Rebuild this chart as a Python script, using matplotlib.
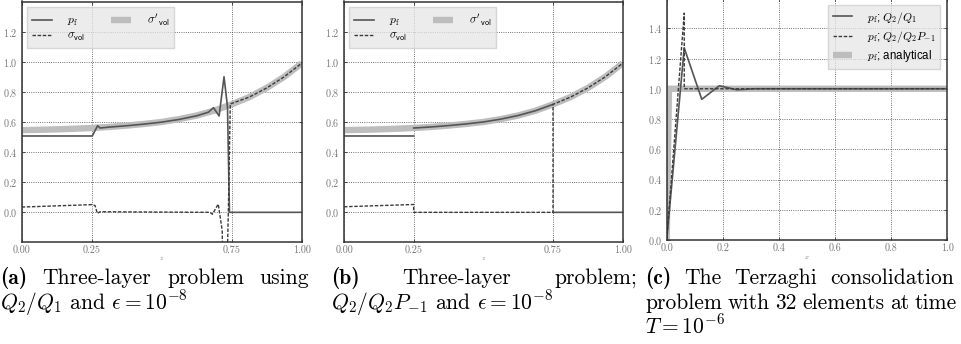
import matplotlib
matplotlib.use("Agg")
import matplotlib.pyplot as plt
from matplotlib.ticker import FormatStrFormatter

plt.rcParams.update({
    "font.family": "cmr10",
    "mathtext.fontset": "cm",
    "axes.unicode_minus": False,
    "axes.formatter.use_mathtext": True,
})

nan = float("nan")

# analytical effective stress, three-layer problem
z_an = [0, 0.0625, 0.125, 0.1875, 0.25, 0.3125, 0.375, 0.4375, 0.5,
        0.5625, 0.625, 0.6875, 0.75, 0.8125, 0.875, 0.9375, 1.0]
sig_an = [0.546, 0.548, 0.551, 0.555, 0.560, 0.567, 0.576, 0.587, 0.600,
          0.619, 0.643, 0.675, 0.717, 0.765, 0.826, 0.900, 0.990]

# (a) Q2/Q1
pf_a_z = [0, 0.252, 0.271, 0.28, 0.3125, 0.375, 0.4375, 0.5, 0.5625, 0.625,
          0.667, 0.685, 0.705, 0.7226, 0.735, 0.742, 1.0]
pf_a = [0.507, 0.507, 0.575, 0.56, 0.566, 0.575, 0.586, 0.599, 0.617, 0.641,
        0.665, 0.695, 0.64, 0.90, 0.70, 0.0, 0.0]
sv_a_z = [0, 0.25, 0.262, 0.27, 0.28, 0.673, 0.681, 0.702, 0.716, 0.725,
          0.738, 0.745, 0.8125, 0.875, 0.9375, 1.0]
sv_a = [0.035, 0.051, 0.045, -0.007, 0.004, 0.0, -0.013, 0.055, -0.12, -1.0,
        0.0, 0.72, 0.765, 0.826, 0.900, 0.990]

# (b) Q2/Q2P-1
pf_b_z = [0, 0.25, nan, 0.25, 0.3125, 0.375, 0.4375, 0.5, 0.5625, 0.625,
          0.6875, 0.75, nan, 0.75, 1.0]
pf_b = [0.507, 0.507, nan, 0.560, 0.567, 0.576, 0.587, 0.600, 0.619, 0.643,
        0.675, 0.717, nan, 0.0, 0.0]
sv_b_z = [0, 0.25, 0.25, 0.75, 0.75, 0.8125, 0.875, 0.9375, 1.0]
sv_b = [0.037, 0.052, 0.0, 0.0, 0.717, 0.765, 0.826, 0.900, 0.990]

# (c) Terzaghi, 32 elements
x_q1 = [0, 0.0625, 0.125, 0.1875, 0.25, 0.3125, 1.0]
pf_q1 = [0, 1.27, 0.93, 1.02, 0.993, 1.0, 1.0]
x_q2 = [0, 0.0625, 0.0625, 1.0]
pf_q2 = [0, 1.5, 1.0, 1.0]
x_terz = [0, 0.008, 1.0]
pf_terz = [0, 1.0, 1.0]

W, H = 962, 344
fig = plt.figure(figsize=(W / 100, H / 100), dpi=100)


def px_axes(l, t, r, b):
    return fig.add_axes([l / W, 1 - b / H, (r - l) / W, (b - t) / H])


def style(ax, xticks, yticks, xlabel):
    for s in ax.spines.values():
        s.set_color("#333333")
        s.set_linewidth(1.1)
    ax.set_xticks(xticks)
    ax.set_yticks(yticks)
    ax.tick_params(direction="in", length=2.5, width=0.6, color="#333333",
                   labelsize=7.3, labelcolor="#777777", top=True, right=True)
    ax.tick_params(axis="x", pad=2.5)
    ax.tick_params(axis="y", pad=3)
    ax.grid(True, linestyle=":", color="#444444", linewidth=0.6)
    ax.set_xlabel(xlabel, fontsize=5, color="#777777", labelpad=0.5)


grey = "#bdbdbd"
dark = "#555555"
dash = "#3a3a3a"
leg_style = dict(fancybox=False, facecolor="#e6e6e6", edgecolor="#cccccc",
                 framealpha=0.75, handlelength=1.7, handletextpad=1.3)

ax_a = px_axes(21.7, 1.5, 301.7, 241.7)
ax_b = px_axes(344, 1.5, 622.7, 241.7)
ax_c = px_axes(666.7, -2, 947.3, 240)

for ax, zp, pp, zs, ss in [(ax_a, pf_a_z, pf_a, sv_a_z, sv_a),
                           (ax_b, pf_b_z, pf_b, sv_b_z, sv_b)]:
    h_an, = ax.plot(z_an, sig_an, color=grey, lw=4.6, solid_capstyle="butt")
    h_pf, = ax.plot(zp, pp, color=dark, lw=1.2)
    h_sv, = ax.plot(zs, ss, color=dash, lw=1.0, ls=(0, (2.5, 1.2)))
    ax.set_xlim(0, 1)
    ax.set_ylim(-0.195, 1.4)
    style(ax, [0, 0.25, 0.75, 1.0], [0, 0.2, 0.4, 0.6, 0.8, 1.0, 1.2], "$z$")
    ax.xaxis.set_major_formatter(FormatStrFormatter("%.2f"))
    ax.legend([h_pf, h_sv, h_an],
              [r"$p_\mathrm{f}$", r"$\sigma_\mathsf{vol}$", r"$\sigma'_\mathsf{vol}$"],
              loc="upper left", ncol=2, fontsize=8.5, columnspacing=2.2,
              borderaxespad=0.45, labelspacing=0.25, **leg_style)

h_an, = ax_c.plot(x_terz, pf_terz, color=grey, lw=4.6, solid_capstyle="butt")
h_q1, = ax_c.plot(x_q1, pf_q1, color=dark, lw=1.2)
h_q2, = ax_c.plot(x_q2, pf_q2, color=dash, lw=1.0, ls=(0, (2.5, 1.2)))
ax_c.set_xlim(0, 1)
ax_c.set_ylim(0, 1.6)
style(ax_c, [0, 0.2, 0.4, 0.6, 0.8, 1.0], [0, 0.2, 0.4, 0.6, 0.8, 1.0, 1.2, 1.4], "$x$")
ax_c.xaxis.set_major_formatter(FormatStrFormatter("%.1f"))
ax_c.legend([h_q1, h_q2, h_an],
            [r"$p_\mathrm{f}$; $Q_2/Q_1$", r"$p_\mathrm{f}$; $Q_2/Q_2P_{-1}$",
             r"$p_\mathrm{f}$; analytical"],
            loc="upper right", borderaxespad=0.6, labelspacing=0.3,
            prop={"family": "Liberation Sans", "size": 8.3}, **leg_style)

# captions, first lines spread to the full column width
CAP = 15.5
renderer = fig.canvas.get_renderer()


def caption_line(words, x0, y, x1=None):
    texts = []
    for w, bold in words:
        texts.append(fig.text(x0 / W, 1 - y / H, w, fontsize=CAP, va="baseline",
                              fontfamily="cmb10" if bold else "cmr10"))
    if x1 is None:
        return
    widths = [t.get_window_extent(renderer).width for t in texts]
    gap = (x1 - x0 - sum(widths)) / max(len(texts) - 1, 1)
    x = x0
    for t, w in zip(texts, widths):
        t.set_x(x / W)
        x += w + gap


y1, y2, y3 = 284, 309, 334
caption_line([("(a)", True), ("Three-layer", False), ("problem", False),
              ("using", False)], 0, y1, 309)
caption_line([(r"$Q_2/Q_1$ and $\epsilon = 10^{-8}$", False)], 0, y2)
caption_line([("(b)", True), ("Three-layer", False), ("problem;", False)],
             331, y1, 637)
caption_line([(r"$Q_2/Q_2P_{-1}$ and $\epsilon = 10^{-8}$", False)], 331, y2)
caption_line([("(c)", True), ("The", False), ("Terzaghi", False),
              ("consolidation", False)], 645, y1, 954)
caption_line([("problem", False), ("with", False), ("32", False),
              ("elements", False), ("at", False), ("time", False)], 645, y2, 957)
caption_line([(r"$T = 10^{-6}$", False)], 645, y3)

fig.savefig("out.png", dpi=100)
